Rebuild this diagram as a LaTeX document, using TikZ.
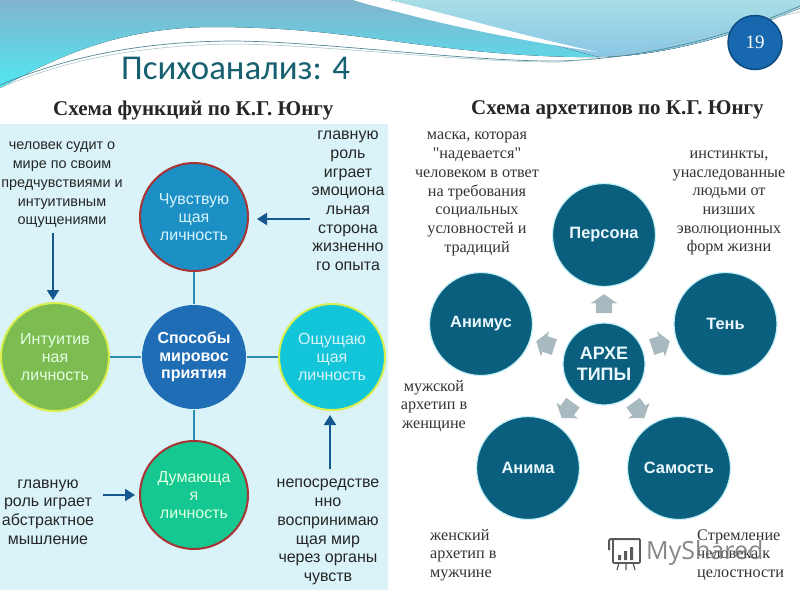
\documentclass[tikz,border=0pt]{standalone}
\usepackage{fontspec}
\setmainfont{Liberation Sans}
\newfontfamily\serifcyr{Liberation Serif}
\newfontfamily\titlecyr{Carlito}
\newfontfamily\markcyr{Open Sans}
\usetikzlibrary{arrows.meta,shapes.arrows}

\definecolor{panelblue}{HTML}{D9F3F8}
\definecolor{wireblue}{HTML}{2C8DB4}
\definecolor{arrowblue}{HTML}{14588F}
\definecolor{archteal}{HTML}{0B5F7E}
\definecolor{archhalo}{HTML}{C4F0F8}
\definecolor{arrowgray}{HTML}{A9B9C0}
\definecolor{titleteal}{HTML}{17606F}
\definecolor{skytop}{HTML}{80B4CD}
\definecolor{skymid}{HTML}{78C8DD}
\definecolor{skylow}{HTML}{4FE8F3}
\definecolor{paletop}{HTML}{A8DEE6}
\definecolor{palelow}{HTML}{88C6E6}
\definecolor{feelblue}{HTML}{1C8FC4}
\definecolor{waysblue}{HTML}{1E6DB5}
\definecolor{intugreen}{HTML}{7CBC50}
\definecolor{senscyan}{HTML}{12C5D8}
\definecolor{thinkgreen}{HTML}{15C892}
\definecolor{ringred}{HTML}{A93434}
\definecolor{ringlime}{HTML}{D9EE50}
\definecolor{pageblue}{HTML}{1868B0}
\definecolor{pagering}{HTML}{0C4C80}

\begin{document}
\begin{tikzpicture}[x=1pt,y=-1pt]
    \tikzstyle{func}=[circle, draw, line width=2pt, inner sep=0pt, align=center, font=\fontsize{16}{17.6}\selectfont]
    \tikzstyle{arch}=[circle, draw=archhalo, line width=1.2pt, fill=archteal, inner sep=0pt, minimum size=103pt, align=center, text=white!92!cyan, font=\fontsize{16.4}{18}\selectfont\bfseries]
    \tikzstyle{sans}=[align=center, inner sep=0pt, text=black!85, font=\fontsize{16}{18.7}\selectfont]
    \tikzstyle{serif}=[align=center, inner sep=0pt, text=black!80, font=\serifcyr\fontsize{16.2}{18.7}\selectfont]
    \tikzstyle{heading}=[inner sep=0pt, text=black!85, font=\serifcyr\fontsize{21}{21}\selectfont\bfseries]
    \tikzstyle{wire}=[line width=2pt, wireblue]
    \tikzstyle{pointer}=[line width=2pt, arrowblue, -{Triangle[length=10pt,width=12pt]}]
    \tikzstyle{blockarrow}=[single arrow, fill=arrowgray, inner xsep=0pt, inner ysep=8pt, minimum height=19pt, single arrow head extend=5pt, single arrow tip angle=110]

    \useasboundingbox (0,0) rectangle (800,600);
    \fill[white] (0,0) rectangle (800,600);

    % top band
    \fill[top color=skytop, middle color=skymid, bottom color=skylow]
        (0,0) -- (800,0) -- (800,8) .. controls (730,38) and (660,56) .. (600,57)
        .. controls (530,58) and (460,50) .. (400,42) .. controls (340,34) and (290,27) .. (210,27)
        .. controls (120,28) and (60,55) .. (0,88) -- cycle;
    \fill[top color=paletop, bottom color=palelow] (390,0) -- (800,0) -- (800,8)
        .. controls (730,38) and (660,56) .. (600,57) .. controls (590,56) and (500,28) .. (390,0) -- cycle;
    \fill[white] (353,0) -- (390,0) .. controls (470,20) and (540,40) .. (598,52)
        .. controls (530,42) and (470,30) .. (417,17) .. controls (395,11) and (372,6) .. (353,0) -- cycle;
    \draw[titleteal!75, line width=.7pt] (0,85) .. controls (60,60) and (130,42) .. (230,41)
        .. controls (320,41) and (470,62) .. (560,61) .. controls (650,58) and (730,36) .. (800,6);
    \draw[titleteal!40, line width=.5pt] (0,88) .. controls (60,62) and (130,46) .. (230,44)
        .. controls (320,44) and (470,63) .. (560,62) .. controls (650,55) and (730,26) .. (800,12);

    % page number
    \node[circle, draw=pagering, line width=1.5pt, fill=pageblue, minimum size=54pt, inner sep=0pt, text=white, font=\serifcyr\fontsize{19}{19}\selectfont] (pagenum) at (755,42.5) {19};

    % titles
    \node[inner sep=0pt, anchor=west, text=titleteal, font=\titlecyr\fontsize{34.8}{35}\selectfont] (title) at (121,68) {Психоанализ: 4};
    \node[heading, anchor=west] (headf) at (53,110) {Схема функций по К.Г. Юнгу};
    \node[heading, anchor=west] (heada) at (471,110) {Схема архетипов по К.Г. Юнгу};

    % function panel
    \fill[panelblue] (0,124) rectangle (388,590);

    % function circles
    \node[func, fill=feelblue, draw=ringred, text=cyan!15!white, minimum size=108pt] (feel) at (194,217) {Чувствую\\щая\\личность};
    \node[func, fill=waysblue, draw=none, minimum size=104pt, text=white, font=\fontsize{16}{17.6}\selectfont\bfseries] (ways) at (194,357) {Способы\\мировос\\приятия};
    \node[func, fill=intugreen, draw=ringlime, text=green!10!white, minimum size=108pt] (intu) at (55,357) {Интуитив\\ная\\личность};
    \node[func, fill=senscyan, draw=ringlime, text=cyan!15!white, minimum size=106pt] (sens) at (332,357) {Ощущаю\\щая\\личность};
    \node[func, fill=thinkgreen, draw=ringred, text=green!12!white, minimum size=108pt] (think) at (194,495) {Думающа\\я\\личность};

    % function wires
    \draw[wire] (ways) -- (feel);
    \draw[wire] (ways) -- (intu);
    \draw[wire] (ways) -- (sens);
    \draw[wire] (ways) -- (think);

    % function texts
    \node[sans, font=\fontsize{14.4}{18.7}\selectfont] (tintu) at (62,185) {человек судит о\\мире по своим\\предчувствиями и\\интуитивным\\ощущениями};
    \node[sans] (tfeel) at (348,201) {главную\\роль\\играет\\эмоциона\\льная\\сторона\\жизненно\\го опыта};
    \node[sans] (tthink) at (48,512) {главную\\роль играет\\абстрактное\\мышление};
    \node[sans] (tsens) at (328,532) {непосредстве\\нно\\воспринимаю\\щая мир\\через органы\\чувств};

    % function pointers
    \coordinate (pintu) at (53,233);
    \coordinate (qintu) at (53,300);
    \coordinate (pfeel) at (310,219);
    \coordinate (qfeel) at (257,219);
    \coordinate (pthink) at (103,495);
    \coordinate (qthink) at (135,495);
    \coordinate (psens) at (330,469);
    \coordinate (qsens) at (330,415);
    \draw[pointer] (pintu) -- (qintu);
    \draw[pointer] (pfeel) -- (qfeel);
    \draw[pointer] (pthink) -- (qthink);
    \draw[pointer] (psens) -- (qsens);

    % archetype circles
    \node[arch] (persona) at (604,235) {Персона};
    \node[arch] (shadow) at (725.5,324) {Тень};
    \node[arch] (animus) at (481,324) {Анимус};
    \node[arch] (anima) at (528,468) {Анима};
    \node[arch] (self) at (679,468) {Самость};
    \node[arch, minimum size=82pt, font=\fontsize{18}{20.5}\selectfont\bfseries] (arche) at (604,364) {АРХЕ\\ТИПЫ};

    % archetype arrows
    \node[blockarrow, rotate=90] (apersona) at (604,306.5) {};
    \node[blockarrow, rotate=18] (ashadow) at (658,345) {};
    \node[blockarrow, rotate=162] (aanimus) at (548,345) {};
    \node[blockarrow, rotate=234] (aanima) at (569,408) {};
    \node[blockarrow, rotate=306] (aself) at (637,408) {};

    % archetype texts
    \node[serif] (tpersona) at (477,194) {маска, которая\\"надевается"\\человеком в ответ\\на требования\\социальных\\условностей и\\традиций};
    \node[serif] (tshadow) at (729,203) {инстинкты,\\унаследованные\\людьми от\\низших\\эволюционных\\форм жизни};
    \node[serif] (tanimus) at (434,406) {мужской\\архетип в\\женщине};
    \node[serif, align=left, anchor=west] (tanima) at (430,555) {женский\\архетип в\\мужчине};
    \node[serif, align=left, anchor=west] (tself) at (697,555) {Стремление\\человека к\\целостности};

    % watermark
    \node[inner sep=0pt, anchor=west, text=black!55, opacity=.85, font=\markcyr\fontsize{25}{25}\selectfont] (mark) at (646,553) {MyShared};
    \draw[black!65, line width=1.6pt, rounded corners=1pt] (613,539) rectangle (640,563);
    \draw[black!65, line width=2pt, rounded corners=2pt] (609,550) -- (609,539) -- (640,539);
    \fill[black!65] (618,555) rectangle (621,560) (624,551) rectangle (627,560) (630,547) rectangle (633,560);
    \draw[black!65, line width=1.2pt] (619,563) -- (617,570) (626,563) -- (626,570) (633,563) -- (635,570);
\end{tikzpicture}
\end{document}
